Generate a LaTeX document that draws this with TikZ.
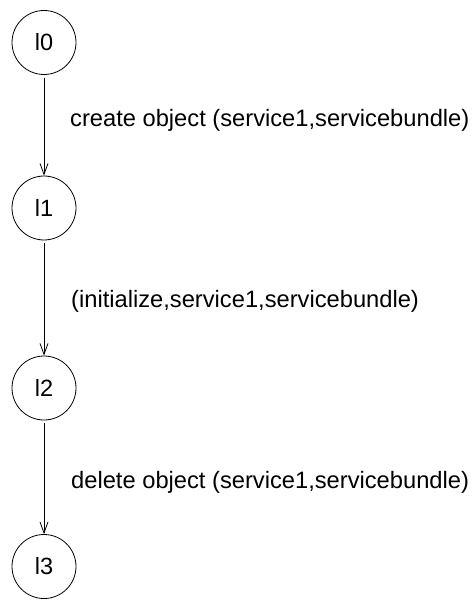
\documentclass[tikz,border=0pt]{standalone}
\usepackage{fontspec}
\setmainfont{Liberation Sans}
\usetikzlibrary{arrows.meta}
\begin{document}
\begin{tikzpicture}[x=1pt,y=-1pt,
  state/.style={draw,circle,line width=0.8pt,minimum size=64pt,inner sep=0pt,font=\fontsize{23.5}{28}\selectfont},
  trans/.style={draw,line width=0.8pt,-{Straight Barb[length=11pt,width=8pt,line width=0.8pt]},shorten <=3pt},
  lbl/.style={anchor=base west,inner sep=0pt,font=\fontsize{23.7}{28}\selectfont}]
\useasboundingbox (0,0) rectangle (474,601);
\node[state] (l0) at (44,42.5) {l0};
\node[state] (l1) at (44,208) {l1};
\node[state] (l2) at (44,388) {l2};
\node[state] (l3) at (44,566.5) {l3};
\draw[trans] (l0) -- (l1);
\draw[trans] (l1) -- (l2);
\draw[trans] (l2) -- (l3);
\node[lbl] (t0) at (70,127) {create object (service1,servicebundle)};
\node[lbl] (t1) at (71,307) {(initialize,service1,servicebundle)};
\node[lbl] (t2) at (71,488) {delete object (service1,servicebundle)};
\end{tikzpicture}
\end{document}
